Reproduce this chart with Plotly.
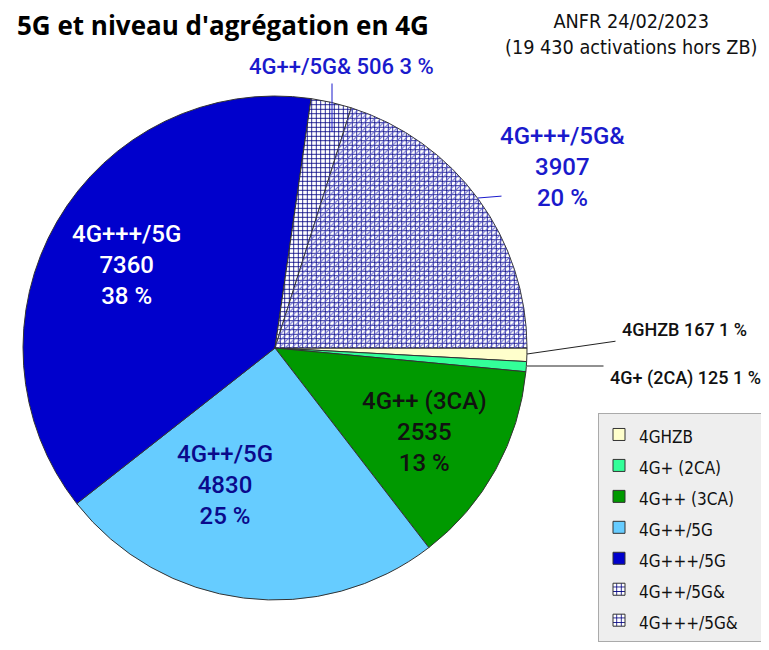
import plotly.graph_objects as go

# data (24/02/2023)
labels = ["4GHZB", "4G+ (2CA)", "4G++ (3CA)", "4G++/5G", "4G+++/5G", "4G++/5G&", "4G+++/5G&"]
values = [167, 125, 2535, 4830, 7360, 506, 3907]
colors = ["#ffffcc", "#33ff99", "#009900", "#66ccff", "#0000cc", "#ffffff", "#ffffff"]
grid = ["", "", "", "", "", "+", "+"]
diag = ["", "", "", "", "", "", "/"]

# page body has an 8px margin, so the figure sits 8px in from the window corner
OFF = 8
W, H = 769 - OFF, 650 - OFF


def px(x, y):
    # window pixel position -> paper coords
    return (x - OFF) / W, 1 - (y - OFF) / H


total = sum(values)
pcts = [round(v * 100 / total) for v in values]

cx, cy, r = 275, 348, 252
x0, y0 = px(cx - r, cy + r)
x1, y1 = px(cx + r, cy - r)

fig = go.Figure()
fig.add_trace(go.Pie(
    labels=['<span style="font-size:17px">%s</span>&nbsp;&nbsp;&nbsp;' % l for l in labels],
    values=values,
    sort=False,
    direction="clockwise",
    rotation=90,
    textinfo="none",
    hoverinfo="label+value+percent",
    domain=dict(x=[x0, x1], y=[y0, y1]),
    marker=dict(colors=colors,
                line=dict(color="#333333", width=1),
                pattern=dict(shape=grid, fgcolor="#000080", size=4.5, solidity=0.33)),
))
# second pass for the diagonal hatch of the last slice
fig.add_trace(go.Pie(
    labels=labels,
    values=values,
    sort=False,
    direction="clockwise",
    rotation=90,
    textinfo="none",
    hoverinfo="skip",
    showlegend=False,
    domain=dict(x=[x0, x1], y=[y0, y1]),
    marker=dict(colors=["rgba(0,0,0,0)"] * len(values),
                line=dict(width=0),
                pattern=dict(shape=diag, fgcolor="#6060d0", bgcolor="rgba(0,0,0,0)",
                             size=4.5, solidity=0.22)),
))

# label placement: (text x, text y, leader line (from, to) or None, stacked?, colour, size)
place = {
    "4GHZB": (684, 329, ((617, 341), (527, 354)), False, "#111111", 18),
    "4G+ (2CA)": (685, 378, ((605, 366), (527, 366)), False, "#111111", 18),
    "4G++ (3CA)": (424, 432, None, True, "#111111", 24),
    "4G++/5G": (225, 485, None, True, "#0a0a8c", 24),
    "4G+++/5G": (127, 265, None, True, "#ffffff", 24),
    "4G++/5G&": (341, 67, ((332, 82), (332, 132)), False, "#1a1acc", 22),
    "4G+++/5G&": (562, 167, ((503, 196), (478, 198)), True, "#1a1acc", 24),
}

for lab, val, pct in zip(labels, values, pcts):
    tx, ty, lead, stack, col, size = place[lab]
    sep = "<br>" if stack else " "
    text = f"{lab}{sep}{val}{sep}{pct} %"
    font = dict(family="Roboto", size=size, color=col, weight=500)
    x, y = px(tx, ty)
    fig.add_annotation(x=x, y=y, xref="paper", yref="paper", text=text,
                       xanchor="center", yanchor="middle",
                       showarrow=False, font=font)
    if lead:
        (fx, fy), (hx, hy) = lead
        x, y = px(hx, hy)
        fig.add_annotation(x=x, y=y, xref="paper", yref="paper", text="",
                           showarrow=True, arrowhead=0, arrowwidth=1,
                           arrowcolor="#222222" if col == "#111111" else col,
                           ax=fx - hx, ay=fy - hy)

x, y = px(15, 25)
fig.add_annotation(x=x, y=y, xref="paper", yref="paper",
                   xanchor="left", yanchor="middle", showarrow=False,
                   text="5G et niveau d'agrégation en 4G",
                   font=dict(family="Open Sans", size=26, weight=700, color="#000000"))
x, y = px(631, 35)
fig.add_annotation(x=x, y=y, xref="paper", yref="paper",
                   xanchor="center", yanchor="middle", showarrow=False,
                   text="ANFR 24/02/2023<br>(19 430 activations hors ZB)",
                   font=dict(family="DejaVu Sans Condensed", size=19.7, color="#111111"))

lx, ly = px(598, 413)
fig.update_layout(
    width=W, height=H,
    margin=dict(l=0, r=0, t=0, b=0, autoexpand=False),
    paper_bgcolor="white",
    legend=dict(x=lx, y=ly, xanchor="left", yanchor="top",
                bgcolor="#eeeeee", bordercolor="#aaaaaa", borderwidth=1,
                font=dict(family="DejaVu Sans Condensed", size=21.5, color="#111111")),
)

fig.write_html("out.html")
